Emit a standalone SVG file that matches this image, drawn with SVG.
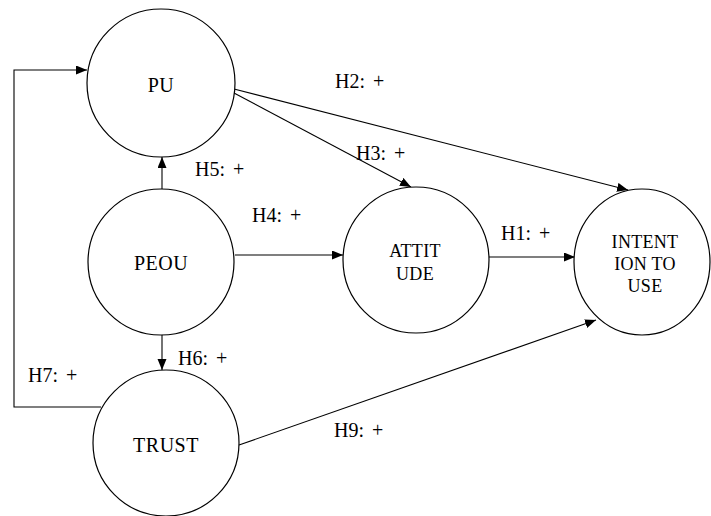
<svg xmlns="http://www.w3.org/2000/svg" width="711" height="516" viewBox="0 0 711 516">
<style>
.node{fill:#fff;stroke:#000;stroke-width:1.2}
.edge{fill:none;stroke:#000;stroke-width:1.1}
text{font-family:"Liberation Serif","Times New Roman",serif;fill:#000}
.lbl{font-size:20px;word-spacing:3px}
.big{font-size:20px;text-anchor:middle;letter-spacing:0.5px}
.sm{font-size:18px;text-anchor:middle;letter-spacing:0.3px}
</style>
<defs>
<marker id="ah" markerUnits="userSpaceOnUse" markerWidth="12" markerHeight="10" refX="11" refY="4.5" orient="auto">
<path d="M0,0 L11,4.5 L0,9 z" fill="#000"/>
</marker>
</defs>
<rect width="711" height="516" fill="#fff"/>
<g id="connectors">
<path class="edge" d="M234,89 L628,190" marker-end="url(#ah)"/>
<path class="edge" d="M234,93 L411,187" marker-end="url(#ah)"/>
<path class="edge" d="M235,255 L343,255" marker-end="url(#ah)"/>
<path class="edge" d="M489,257 L575,257" marker-end="url(#ah)"/>
<path class="edge" d="M162,189 L162,157" marker-end="url(#ah)"/>
<path class="edge" d="M162,334 L162,370" marker-end="url(#ah)"/>
<path class="edge" d="M101,407 L14,407 L14,70 L87,70" marker-end="url(#ah)"/>
<path class="edge" d="M239,445 L596,320" marker-end="url(#ah)"/>
<text class="lbl" x="335" y="88">H2: +</text>
<text class="lbl" x="356" y="160">H3: +</text>
<text class="lbl" x="195" y="176">H5: +</text>
<text class="lbl" x="252" y="222">H4: +</text>
<text class="lbl" x="501" y="240">H1: +</text>
<text class="lbl" x="178" y="365">H6: +</text>
<text class="lbl" x="28" y="382">H7: +</text>
<text class="lbl" x="334" y="437">H9: +</text>
</g>
<g id="PU">
<circle class="node" cx="161" cy="83" r="74"/>
<text class="big" x="161" y="92">PU</text>
</g>
<g id="PEOU">
<circle class="node" cx="161" cy="262" r="73"/>
<text class="big" x="161" y="270">PEOU</text>
</g>
<g id="TRUST">
<circle class="node" cx="166" cy="443" r="73"/>
<text class="big" x="166" y="452">TRUST</text>
</g>
<g id="ATTITUDE">
<circle class="node" cx="416" cy="260" r="73"/>
<text class="sm" x="415" y="257">ATTIT</text>
<text class="sm" x="415" y="280">UDE</text>
</g>
<g id="INTENTION">
<ellipse class="node" cx="642" cy="262" rx="68" ry="73"/>
<text class="sm" x="645" y="248">INTENT</text>
<text class="sm" x="645" y="270">ION TO</text>
<text class="sm" x="645" y="292">USE</text>
</g>
</svg>
